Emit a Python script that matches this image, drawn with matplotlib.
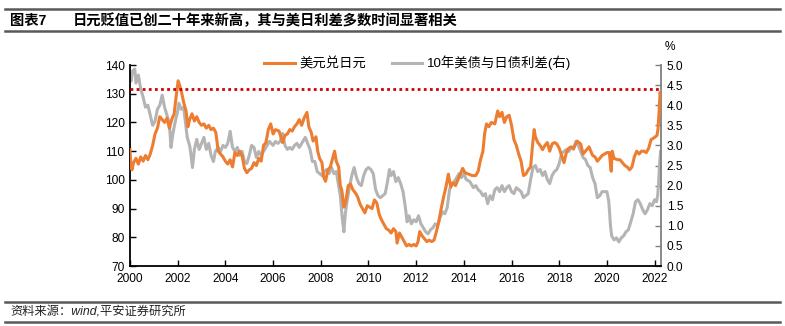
import matplotlib
matplotlib.use("Agg")
import matplotlib.pyplot as plt
from matplotlib.lines import Line2D

plt.rcParams['font.family'] = ['Liberation Sans', 'Noto Sans CJK SC']
plt.rcParams['axes.unicode_minus'] = False

# USD/JPY (left axis), time in fractional years
usdjpy_t = [
    2000.00, 2000.03, 2000.08, 2000.15, 2000.25, 2000.35, 2000.45, 2000.55, 2000.65, 2000.75,
    2000.85, 2000.95, 2001.05, 2001.15, 2001.25, 2001.35, 2001.45, 2001.55, 2001.65, 2001.75,
    2001.85, 2001.95, 2002.02, 2002.08, 2002.15, 2002.25, 2002.35, 2002.43, 2002.50, 2002.60,
    2002.70, 2002.80, 2002.90, 2003.00, 2003.10, 2003.20, 2003.30, 2003.40, 2003.50, 2003.60,
    2003.70, 2003.80, 2003.90, 2004.00, 2004.10, 2004.20, 2004.30, 2004.40, 2004.50, 2004.60,
    2004.70, 2004.80, 2004.90, 2005.00, 2005.10, 2005.20, 2005.30, 2005.40, 2005.50, 2005.60,
    2005.70, 2005.80, 2005.90, 2006.00, 2006.10, 2006.25, 2006.40, 2006.50, 2006.60, 2006.70,
    2006.80, 2006.90, 2007.00, 2007.10, 2007.20, 2007.30, 2007.42, 2007.50, 2007.60, 2007.68,
    2007.80, 2007.87, 2007.95, 2008.05, 2008.12, 2008.20, 2008.30, 2008.40, 2008.50, 2008.58,
    2008.65, 2008.75, 2008.82, 2008.88, 2008.97, 2009.05, 2009.15, 2009.25, 2009.35, 2009.45,
    2009.55, 2009.65, 2009.75, 2009.85, 2009.95, 2010.05, 2010.15, 2010.25, 2010.35, 2010.45,
    2010.55, 2010.65, 2010.75, 2010.85, 2010.95, 2011.05, 2011.15, 2011.20, 2011.30, 2011.40,
    2011.50, 2011.60, 2011.70, 2011.80, 2011.90, 2012.00, 2012.08, 2012.15, 2012.25, 2012.35,
    2012.45, 2012.55, 2012.65, 2012.75, 2012.85, 2012.95, 2013.05, 2013.15, 2013.25, 2013.35,
    2013.45, 2013.55, 2013.65, 2013.75, 2013.85, 2013.95, 2014.05, 2014.20, 2014.35, 2014.50,
    2014.60, 2014.70, 2014.80, 2014.87, 2014.95, 2015.05, 2015.15, 2015.30, 2015.42, 2015.50,
    2015.60, 2015.70, 2015.80, 2015.90, 2016.00, 2016.10, 2016.20, 2016.30, 2016.40, 2016.50,
    2016.60, 2016.70, 2016.80, 2016.88, 2016.95, 2017.00, 2017.10, 2017.20, 2017.30, 2017.40,
    2017.50, 2017.60, 2017.70, 2017.80, 2017.90, 2018.00, 2018.10, 2018.20, 2018.30, 2018.40,
    2018.50, 2018.60, 2018.75, 2018.90, 2019.00, 2019.10, 2019.25, 2019.40, 2019.50, 2019.60,
    2019.70, 2019.80, 2019.90, 2020.00, 2020.10, 2020.18, 2020.22, 2020.30, 2020.45, 2020.55,
    2020.65, 2020.75, 2020.85, 2020.95, 2021.05, 2021.15, 2021.25, 2021.35, 2021.45, 2021.55,
    2021.65, 2021.75, 2021.85, 2021.95, 2022.03, 2022.10, 2022.14, 2022.17, 2022.20, 2022.23,
    2022.25,
]
usdjpy = [
    110.5, 106.0, 103.5, 106.0, 107.5, 105.5, 108.0, 106.5, 108.5, 107.0,
    109.0, 112.0, 116.0, 118.0, 122.0, 121.0, 120.0, 121.5, 118.0, 121.0,
    123.0, 130.0, 134.5, 133.0, 131.0, 127.0, 124.0, 118.5, 121.0, 123.0,
    120.5, 122.0, 120.0, 119.0, 119.5, 118.0, 119.0, 117.5, 118.0, 116.5,
    110.0, 109.0, 108.0, 106.5, 105.5, 107.0, 104.5, 109.5, 108.5, 110.0,
    108.5, 104.0, 102.5, 103.5, 104.0, 106.0, 105.0, 107.5, 106.5, 112.0,
    113.0, 117.5, 119.5, 116.0, 117.5, 117.0, 113.0, 115.5, 116.0, 117.5,
    117.0, 118.5, 119.5, 121.0, 119.0, 121.5, 123.5, 118.5, 116.5, 113.5,
    115.0, 110.0, 107.5, 106.0, 101.0, 99.5, 103.5, 104.5, 107.5, 110.0,
    106.5, 104.5, 98.0, 96.5, 90.5, 92.5, 98.0, 98.5, 96.5, 95.5,
    94.0, 91.5, 90.0, 88.5, 91.0, 90.5, 90.0, 93.0, 92.0, 88.0,
    86.0, 84.5, 83.0, 82.5, 81.5, 83.0, 82.0, 78.0, 81.5, 80.0,
    78.5, 77.0, 77.5, 77.0, 77.5, 77.0, 78.5, 82.0, 80.5, 79.5,
    78.5, 79.0, 78.5, 79.0, 82.0, 85.5, 90.0, 94.0, 97.5, 102.0,
    97.5, 99.0, 98.0, 100.0, 102.0, 104.0, 102.5, 102.0, 101.5, 101.5,
    103.0, 107.0, 110.0, 116.0, 119.5, 118.5, 120.0, 119.5, 124.0, 122.0,
    123.5, 120.0, 122.0, 122.5, 119.0, 114.0, 112.0, 109.0, 106.5, 101.5,
    102.0, 103.5, 104.5, 112.0, 117.5, 115.0, 113.0, 112.0, 110.5, 112.0,
    113.0, 110.0, 112.5, 113.0, 112.5, 111.0, 108.5, 106.0, 109.5, 111.0,
    111.5, 111.0, 113.5, 112.5, 109.0, 110.0, 111.5, 108.5, 108.0, 106.5,
    107.5, 108.5, 109.0, 109.5, 109.5, 103.0, 110.0, 107.5, 107.0, 107.0,
    106.0, 105.0, 104.5, 103.5, 104.5, 108.0, 110.0, 109.0, 110.0, 110.0,
    109.5, 111.0, 114.0, 114.5, 115.0, 115.5, 117.5, 121.5, 125.5, 130.5,
    129.5,
]

# 10Y UST minus 10Y JGB yield spread, % (right axis)
spread_t = [
    2000.00, 2000.05, 2000.10, 2000.20, 2000.25, 2000.35, 2000.45, 2000.55, 2000.65, 2000.75,
    2000.85, 2000.95, 2001.05, 2001.15, 2001.25, 2001.35, 2001.45, 2001.55, 2001.65, 2001.72,
    2001.80, 2001.90, 2002.00, 2002.05, 2002.15, 2002.25, 2002.32, 2002.40, 2002.50, 2002.55,
    2002.62, 2002.70, 2002.80, 2002.90, 2003.00, 2003.10, 2003.20, 2003.30, 2003.40, 2003.50,
    2003.58, 2003.70, 2003.80, 2003.90, 2004.00, 2004.10, 2004.20, 2004.30, 2004.40, 2004.50,
    2004.60, 2004.70, 2004.80, 2004.90, 2005.00, 2005.10, 2005.20, 2005.30, 2005.40, 2005.50,
    2005.60, 2005.70, 2005.85, 2006.00, 2006.10, 2006.20, 2006.30, 2006.40, 2006.50, 2006.60,
    2006.70, 2006.80, 2006.90, 2007.00, 2007.10, 2007.20, 2007.35, 2007.45, 2007.55, 2007.65,
    2007.75, 2007.85, 2007.95, 2008.05, 2008.15, 2008.25, 2008.35, 2008.45, 2008.55, 2008.65,
    2008.75, 2008.82, 2008.90, 2008.97, 2009.03, 2009.10, 2009.20, 2009.30, 2009.40, 2009.50,
    2009.60, 2009.70, 2009.80, 2009.90, 2010.00, 2010.10, 2010.20, 2010.30, 2010.40, 2010.50,
    2010.60, 2010.70, 2010.80, 2010.88, 2010.95, 2011.05, 2011.15, 2011.25, 2011.35, 2011.45,
    2011.55, 2011.62, 2011.70, 2011.80, 2011.90, 2012.00, 2012.10, 2012.20, 2012.30, 2012.40,
    2012.50, 2012.60, 2012.70, 2012.80, 2012.90, 2013.00, 2013.10, 2013.20, 2013.30, 2013.40,
    2013.50, 2013.60, 2013.70, 2013.80, 2013.90, 2014.00, 2014.10, 2014.25, 2014.40, 2014.50,
    2014.60, 2014.70, 2014.80, 2014.90, 2015.00, 2015.10, 2015.20, 2015.30, 2015.40, 2015.50,
    2015.60, 2015.70, 2015.80, 2015.90, 2016.00, 2016.10, 2016.20, 2016.30, 2016.40, 2016.50,
    2016.60, 2016.70, 2016.80, 2016.90, 2017.00, 2017.10, 2017.20, 2017.30, 2017.40, 2017.50,
    2017.60, 2017.70, 2017.80, 2017.90, 2018.00, 2018.10, 2018.20, 2018.30, 2018.40, 2018.50,
    2018.60, 2018.70, 2018.80, 2018.90, 2019.00, 2019.10, 2019.20, 2019.30, 2019.40, 2019.50,
    2019.60, 2019.70, 2019.80, 2019.90, 2020.00, 2020.08, 2020.15, 2020.20, 2020.30, 2020.40,
    2020.50, 2020.60, 2020.70, 2020.80, 2020.90, 2021.00, 2021.10, 2021.20, 2021.30, 2021.40,
    2021.50, 2021.60, 2021.70, 2021.80, 2021.90, 2022.00, 2022.08, 2022.13, 2022.17, 2022.21,
    2022.25,
]
spread = [
    4.80, 4.60, 4.85, 4.90, 4.55, 4.75, 4.40, 4.20, 3.95, 4.00,
    3.75, 3.50, 3.60, 3.90, 4.00, 4.25, 3.95, 3.75, 3.55, 2.95,
    3.30, 3.60, 3.85, 4.05, 3.90, 3.95, 3.60, 3.20, 3.00, 2.80,
    2.45, 2.90, 3.15, 2.90, 3.05, 3.20, 2.90, 3.05, 2.75, 2.60,
    2.85, 2.95, 2.85, 3.00, 2.95, 3.05, 3.35, 2.95, 2.85, 2.95,
    2.75, 2.85, 2.60, 2.55, 2.75, 3.00, 2.95, 2.70, 2.85, 2.75,
    2.85, 2.95, 3.10, 3.00, 3.10, 3.05, 3.10, 3.30, 3.00, 2.90,
    2.95, 2.90, 3.00, 3.05, 2.95, 3.05, 3.20, 3.05, 2.90, 2.60,
    2.60, 2.35, 2.30, 2.25, 2.35, 2.40, 2.30, 2.45, 2.30, 2.35,
    2.00, 1.75, 1.20, 0.85, 1.30, 1.60, 1.95, 2.25, 2.45, 2.20,
    2.05, 2.00, 2.25, 2.40, 2.45, 2.40, 2.30, 1.90, 1.75, 1.70,
    1.75, 1.80, 2.10, 2.40, 2.25, 2.35, 2.10, 2.20, 2.05, 1.85,
    1.45, 1.10, 1.25, 1.05, 1.15, 1.10, 1.25, 1.05, 0.95, 0.85,
    0.80, 0.90, 0.95, 1.05, 1.00, 1.20, 1.35, 1.30, 1.45, 1.90,
    2.05, 2.10, 2.20, 2.30, 2.20, 2.30, 2.15, 2.10, 1.95, 2.00,
    1.90, 1.85, 1.75, 1.80, 1.55, 1.75, 1.65, 1.90, 1.95, 1.85,
    2.00, 1.85, 1.95, 2.00, 1.85, 1.80, 1.95, 1.90, 1.85, 1.70,
    1.75, 1.80, 2.15, 2.45, 2.50, 2.35, 2.40, 2.25, 2.35, 2.15,
    2.05, 2.25, 2.35, 2.40, 2.55, 2.80, 2.85, 2.90, 2.85, 2.95,
    2.90, 3.10, 3.00, 2.85, 2.70, 2.65, 2.50, 2.45, 2.20, 2.05,
    1.70, 1.75, 1.85, 1.85, 1.85, 1.60, 1.00, 0.75, 0.65, 0.70,
    0.60, 0.70, 0.75, 0.85, 0.90, 1.10, 1.30, 1.60, 1.65, 1.55,
    1.40, 1.30, 1.40, 1.55, 1.50, 1.65, 1.60, 1.75, 2.10, 2.55,
    2.85,
]

year_ticks = list(range(2000, 2023, 2))
ref_level = 131.6  # current USD/JPY level, drawn as a reference line

ORANGE = '#ED7D31'
GREY = '#B4B4B4'

fig = plt.figure(figsize=(7.85, 3.26), dpi=100)
ax = fig.add_axes([0.1656, 0.184, 0.6768, 0.8006 - 0.184])
ax2 = ax.twinx()

ax2.plot(spread_t, spread, color=GREY, lw=2.2, label='10年美债与日债利差(右)', zorder=2)
ax.plot(usdjpy_t, usdjpy, color=ORANGE, lw=2.2, label='美元兑日元', zorder=3)
ax.axhline(ref_level, color='#D00000', lw=2, ls=(0, (1, 1.2)), zorder=4)

ax.set_zorder(ax2.get_zorder() + 1)
ax.patch.set_visible(False)

ax.set_xlim(2000, 2022.28)
ax.set_ylim(70, 140)
ax2.set_ylim(0, 5)
ax.set_xticks(year_ticks)
ax.set_xticklabels([str(y) for y in year_ticks])
ax.set_yticks(range(70, 141, 10))
ax2.set_yticks([i * 0.5 for i in range(11)])
ax2.set_yticklabels([f'{i * 0.5:.1f}' for i in range(11)])

for a in (ax, ax2):
    a.spines['top'].set_visible(False)
ax.spines['right'].set_visible(False)
ax2.spines['left'].set_visible(False)
ax2.spines['bottom'].set_visible(False)
ax.spines['left'].set_color('#000000')
ax.spines['bottom'].set_color('#000000')
ax.spines['left'].set_linewidth(1.3)
ax.spines['bottom'].set_linewidth(1.3)
ax2.spines['right'].set_color('#808080')
ax2.spines['right'].set_linewidth(1.3)

ax.tick_params(axis='both', direction='in', length=4, width=1, labelsize=8.6, pad=4)
ax.tick_params(axis='x', pad=5)
ax2.tick_params(axis='y', direction='in', length=4, width=1, color='#808080',
                labelsize=8.6, pad=4)

ax2.text(1.016, 1.06, '%', transform=ax2.transAxes, ha='center', va='bottom', fontsize=8.6)

h1, l1 = ax.get_legend_handles_labels()
h2, l2 = ax2.get_legend_handles_labels()
fig.legend(h1 + h2, l1 + l2, loc='center', bbox_to_anchor=(0.532, 0.807), ncol=2,
           frameon=False, fontsize=9.6, handlelength=2.3, handletextpad=0.35,
           columnspacing=1.9, borderaxespad=0)

# header and footer rules
for y in (0.971, 0.905, 0.073, 0.012):
    fig.add_artist(Line2D([0.007, 0.993], [y, y], transform=fig.transFigure,
                          color='#595959', lw=1.8))

fig.text(0.013, 0.937, '图表7', fontsize=10.3, fontweight='bold', va='center',
         family=['Liberation Sans', 'Noto Sans CJK SC'])
fig.text(0.093, 0.937, '日元贬值已创二十年来新高，其与美日利差多数时间显著相关',
         fontsize=10.3, fontweight='bold', va='center', family=['Noto Sans CJK SC'])
fig.text(0.013, 0.043, '资料来源：wind,平安证券研究所', fontsize=8.8, va='center',
         style='italic', color='#222222')

fig.savefig('out.png', dpi=100)
